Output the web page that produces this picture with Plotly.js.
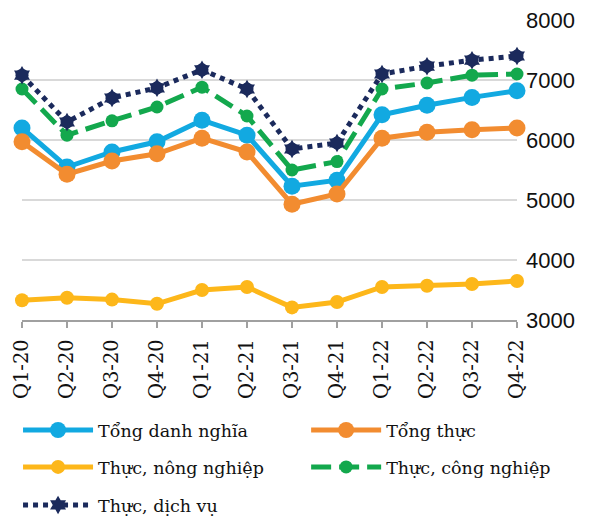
<!DOCTYPE html>
<html><head><meta charset="utf-8">
<script src="https://cdn.plot.ly/plotly-3.0.1.min.js"></script>
<style>body{margin:0;padding:0;background:#fff}#chart{width:591px;height:517px}</style>
</head><body><div id="chart"></div>
<script>
const categories = ["Q1-20","Q2-20","Q3-20","Q4-20","Q1-21","Q2-21","Q3-21","Q4-21","Q1-22","Q2-22","Q3-22","Q4-22"];
const tongDanhNghia = [6200,5550,5800,5970,6330,6080,5230,5330,6420,6580,6710,6820];
const tongThuc = [5970,5430,5650,5770,6030,5800,4930,5100,6030,6130,6170,6200];
const thucNongNghiep = [3330,3370,3340,3270,3500,3550,3210,3300,3550,3570,3600,3650];
const thucCongNghiep = [6850,6080,6320,6550,6880,6400,5500,5640,6850,6950,7080,7100];
const thucDichVu = [7080,6300,6700,6870,7170,6850,5850,5950,7100,7230,7330,7400];
const yTicks = [3000,4000,5000,6000,7000,8000];

const serif = "DejaVu Serif, serif";
const sans = "Liberation Sans, Arial, sans-serif";
function tr(name, y, color, size, dash, symbol, legend){
  return {x: categories, y: y, name: name, type: "scatter", mode: "lines+markers",
    line: {color: color, width: 5, dash: dash || "solid"},
    marker: {color: color, size: size, symbol: symbol || "circle"},
    cliponaxis: false, legend: legend};
}
const navy = "#1B2A5C";
const data = [
  tr("Tổng danh nghĩa", tongDanhNghia, "#12A9E1", 17, null, null, "legend"),
  tr("Tổng thực", tongThuc, "#F28C30", 17, null, null, "legend2"),
  tr("Thực, nông nghiệp", thucNongNghiep, "#FDB71A", 14, null, null, "legend3"),
  tr("Thực, công nghiệp", thucCongNghiep, "#13A84D", 13, "20px,8px", null, "legend4"),
  tr("Thực, dịch vụ", thucDichVu, navy, 14, "dot", "hexagram", "legend5"),
  {x: categories, y: thucDichVu, type: "scatter", mode: "markers", showlegend: false,
   marker: {color: navy, size: 13, symbol: "circle"}, cliponaxis: false, hoverinfo: "skip"}
];
function lg(x, y){
  return {orientation: "h", x: x, xanchor: "left", y: y, yanchor: "middle",
    itemwidth: 70, font: {size: 17.5, family: serif, color: "#111"}, bgcolor: "rgba(0,0,0,0)"};
}
const layout = {
  width: 591, height: 517,
  margin: {l: 22, r: 74, t: 20, b: 197, autoexpand: false},
  paper_bgcolor: "#fff", plot_bgcolor: "#fff",
  font: {family: serif, color: "#111", size: 17},
  showlegend: true,
  xaxis: {type: "category", range: [0, 11], tickangle: -90,
    ticks: "outside", ticklen: 6, tickcolor: "#a0a0a0", tickwidth: 1.5,
    showline: true, linecolor: "#a0a0a0", linewidth: 1.5, showgrid: false,
    tickfont: {size: 19.5, family: serif, color: "#111"}, ticklabelstandoff: 4,
    fixedrange: true, automargin: false},
  yaxis: {range: [3000, 8000], side: "right", tickvals: yTicks,
    showgrid: true, gridcolor: "#d9d9d9", gridwidth: 1.5, zeroline: false,
    tickfont: {size: 22, family: sans, color: "#111"}, ticklabelstandoff: 8, fixedrange: true, automargin: false},
  legend: lg(-0.008, -0.367),
  legend2: lg(0.574, -0.367),
  legend3: lg(-0.008, -0.49),
  legend4: lg(0.574, -0.49),
  legend5: lg(-0.008, -0.617)
};
Plotly.newPlot("chart", data, layout, {displayModeBar: false, staticPlot: true});
</script></body></html>
